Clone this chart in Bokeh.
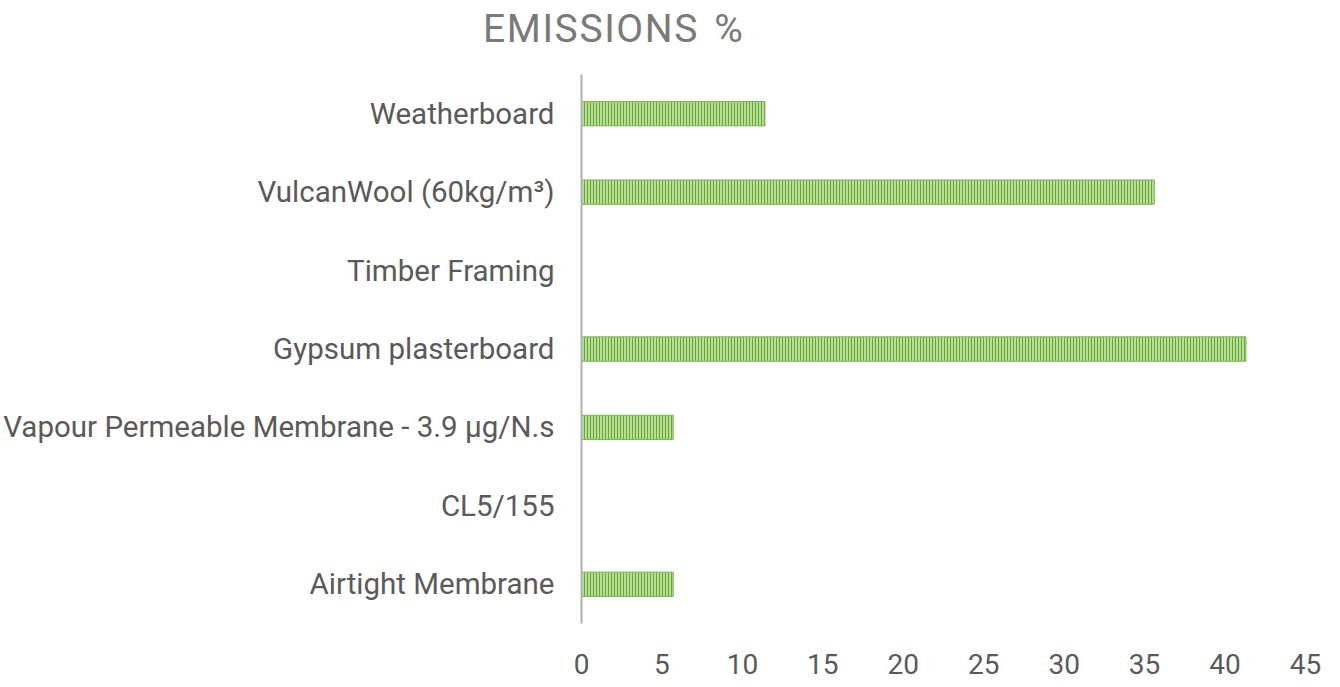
from bokeh.plotting import figure
from bokeh.models import Range1d, FixedTicker, FactorRange, ColumnDataSource, Div
from bokeh.layouts import column
from bokeh.embed import file_html
from bokeh.resources import INLINE

title_text = "EMISSIONS %"
categories = [
    "Weatherboard",
    "VulcanWool (60kg/m\u00b3)",
    "Timber Framing",
    "Gypsum plasterboard",
    "Vapour Permeable Membrane - 3.9 \u00b5g/N.s",
    "CL5/155",
    "Airtight Membrane",
]
emissions = [11.4, 35.6, 0.0, 41.3, 5.7, 0.0, 5.7]
x_ticks = [0, 5, 10, 15, 20, 25, 30, 35, 40, 45]

factors = list(reversed(categories))
src = ColumnDataSource(dict(cat=categories, val=emissions))

title = Div(
    text=title_text, width=700, height=66, margin=(0, 0, 0, 483),
    styles={"font-family": "Roboto", "font-size": "39px", "color": "#7a7a7a",
            "letter-spacing": "1.6px", "word-spacing": "4px",
            "line-height": "1", "padding-top": "10px"},
)

p = figure(
    width=1324, height=619,
    y_range=FactorRange(*factors, range_padding=0),
    x_range=Range1d(0, 45),
    output_backend="svg", toolbar_location=None,
    min_border_left=573, min_border_right=19,
    min_border_top=8, min_border_bottom=62,
)
p.hbar(y="cat", right="val", left=0, height=0.31, source=src,
       fill_color="#b7de92", line_color="#79b452", line_width=1,
       hatch_pattern="vertical_line", hatch_color="#6aa83e",
       hatch_scale=3, hatch_weight=1)

p.outline_line_color = None
p.xgrid.visible = False
p.ygrid.visible = False
p.background_fill_color = "white"
p.border_fill_color = "white"

p.xaxis.ticker = FixedTicker(ticks=x_ticks)
p.xaxis.axis_line_color = None
p.xaxis.major_tick_line_color = None
p.xaxis.minor_tick_line_color = None
p.xaxis.major_label_text_font = "Roboto"
p.xaxis.major_label_text_font_size = "28px"
p.xaxis.major_label_text_color = "#5a5a5a"
p.xaxis.major_label_standoff = 24

p.yaxis.axis_line_color = "#b0b0b0"
p.yaxis.axis_line_width = 2
p.yaxis.major_tick_line_color = None
p.yaxis.minor_tick_line_color = None
p.yaxis.major_label_text_font = "Roboto"
p.yaxis.major_label_text_font_size = "29.5px"
p.yaxis.major_label_text_color = "#5a5a5a"
p.yaxis.major_label_standoff = 21

layout = column(title, p, spacing=0)
open("out.html", "w").write(file_html(layout, INLINE))
